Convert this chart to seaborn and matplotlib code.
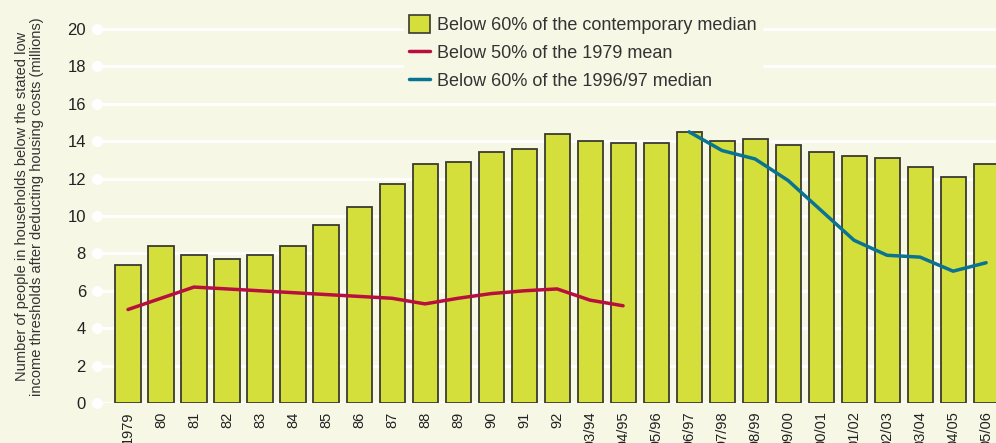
import numpy as np
import pandas as pd
import matplotlib
matplotlib.use("Agg")
import matplotlib.pyplot as plt
import seaborn as sns
from matplotlib.patches import Patch
from matplotlib.lines import Line2D

years = ["1979", "80", "81", "82", "83", "84", "85", "86", "87", "88", "89",
         "90", "91", "92", "93/94", "94/95", "95/96", "96/97", "97/98", "98/99",
         "99/00", "00/01", "01/02", "02/03", "03/04", "04/05", "05/06"]
contemporary = [7.4, 8.4, 7.9, 7.7, 7.9, 8.4, 9.5, 10.5, 11.7, 12.8, 12.9,
                13.4, 13.6, 14.4, 14.0, 13.9, 13.9, 14.5, 14.0, 14.1,
                13.8, 13.4, 13.2, 13.1, 12.6, 12.1, 12.8]
mean_1979_years = ["1979", "80", "81", "82", "83", "84", "85", "86", "87", "88",
                   "89", "90", "91", "92", "93/94", "94/95"]
mean_1979 = [5.0, 5.6, 6.2, 6.1, 6.0, 5.9, 5.8, 5.7, 5.6, 5.3,
             5.6, 5.85, 6.0, 6.1, 5.5, 5.2]
median_9697_years = ["96/97", "97/98", "98/99", "99/00", "00/01", "01/02",
                     "02/03", "03/04", "04/05", "05/06"]
median_9697 = [14.5, 13.5, 13.05, 11.9, 10.3, 8.7, 7.9, 7.8, 7.05, 7.5]

BG = "#f6f7e5"
BAR = "#d5df3c"
RED = "#b8103e"
BLUE = "#0a7391"

sns.set_style("white")
plt.rcParams["font.family"] = ["Liberation Sans", "DejaVu Sans"]

fig = plt.figure(figsize=(9.96, 4.43), dpi=100, facecolor=BG)
ax = fig.add_axes([97 / 996, 40 / 443, 899 / 996, 21 * 18.7 / 443])
ax.set_facecolor(BG)

bars = pd.DataFrame({"year": years, "value": contemporary})
sns.barplot(data=bars, x="year", y="value", order=years, color=BAR,
            saturation=1, width=0.76, edgecolor="#3a3a30", linewidth=1.3,
            ax=ax, zorder=2)

red = pd.DataFrame({"x": [years.index(y) for y in mean_1979_years], "v": mean_1979})
blue = pd.DataFrame({"x": [years.index(y) for y in median_9697_years], "v": median_9697})
sns.lineplot(data=red, x="x", y="v", color=RED, linewidth=2.5, ax=ax, zorder=3)
sns.lineplot(data=blue, x="x", y="v", color=BLUE, linewidth=2.5, ax=ax, zorder=3)

ax.set_xlim(-0.94, 26.3)
ax.set_ylim(0, 21)
yt = np.arange(0, 21, 2)
ax.set_yticks(yt)
ax.set_yticklabels([str(v) for v in yt], fontsize=12, color="#222222")
for v in yt:
    ax.axhline(v, color="white", linewidth=2.0, zorder=1)
ax.plot(np.zeros(len(yt)), yt, "o", color="white", markersize=7,
        transform=ax.get_yaxis_transform(), clip_on=False, zorder=1)
ax.tick_params(axis="y", length=0, pad=8)
ax.tick_params(axis="x", length=0, pad=6)
ax.set_xticks(range(len(years)))
ax.set_xticklabels(years, rotation=90, fontsize=10.5, color="#222222", va="top")
for s in ax.spines.values():
    s.set_visible(False)
ax.set_xlabel("")
ax.set_ylabel("Number of people in households below the stated low\n"
              "income thresholds after deducting housing costs (millions)",
              fontsize=10.5, color="#333333", labelpad=17, linespacing=1.1)

handles = [Patch(facecolor=BAR, edgecolor="#3a3a30", linewidth=1.2),
           Line2D([0], [0], color=RED, linewidth=2.5),
           Line2D([0], [0], color=BLUE, linewidth=2.5)]
labels = ["Below 60% of the contemporary median",
          "Below 50% of the 1979 mean",
          "Below 60% of the 1996/97 median"]
leg = ax.legend(handles, labels, loc="upper left", bbox_to_anchor=(0.331, 1.025),
                frameon=True, fontsize=13, handlelength=1.15, handleheight=1.15,
                handletextpad=0.4, labelspacing=0.5, borderpad=0.3)
leg.get_frame().set_facecolor(BG)
leg.get_frame().set_edgecolor(BG)
leg.get_frame().set_alpha(1)
for t in leg.get_texts():
    t.set_color("#333333")

fig.savefig("out.png", dpi=100, facecolor=BG)
